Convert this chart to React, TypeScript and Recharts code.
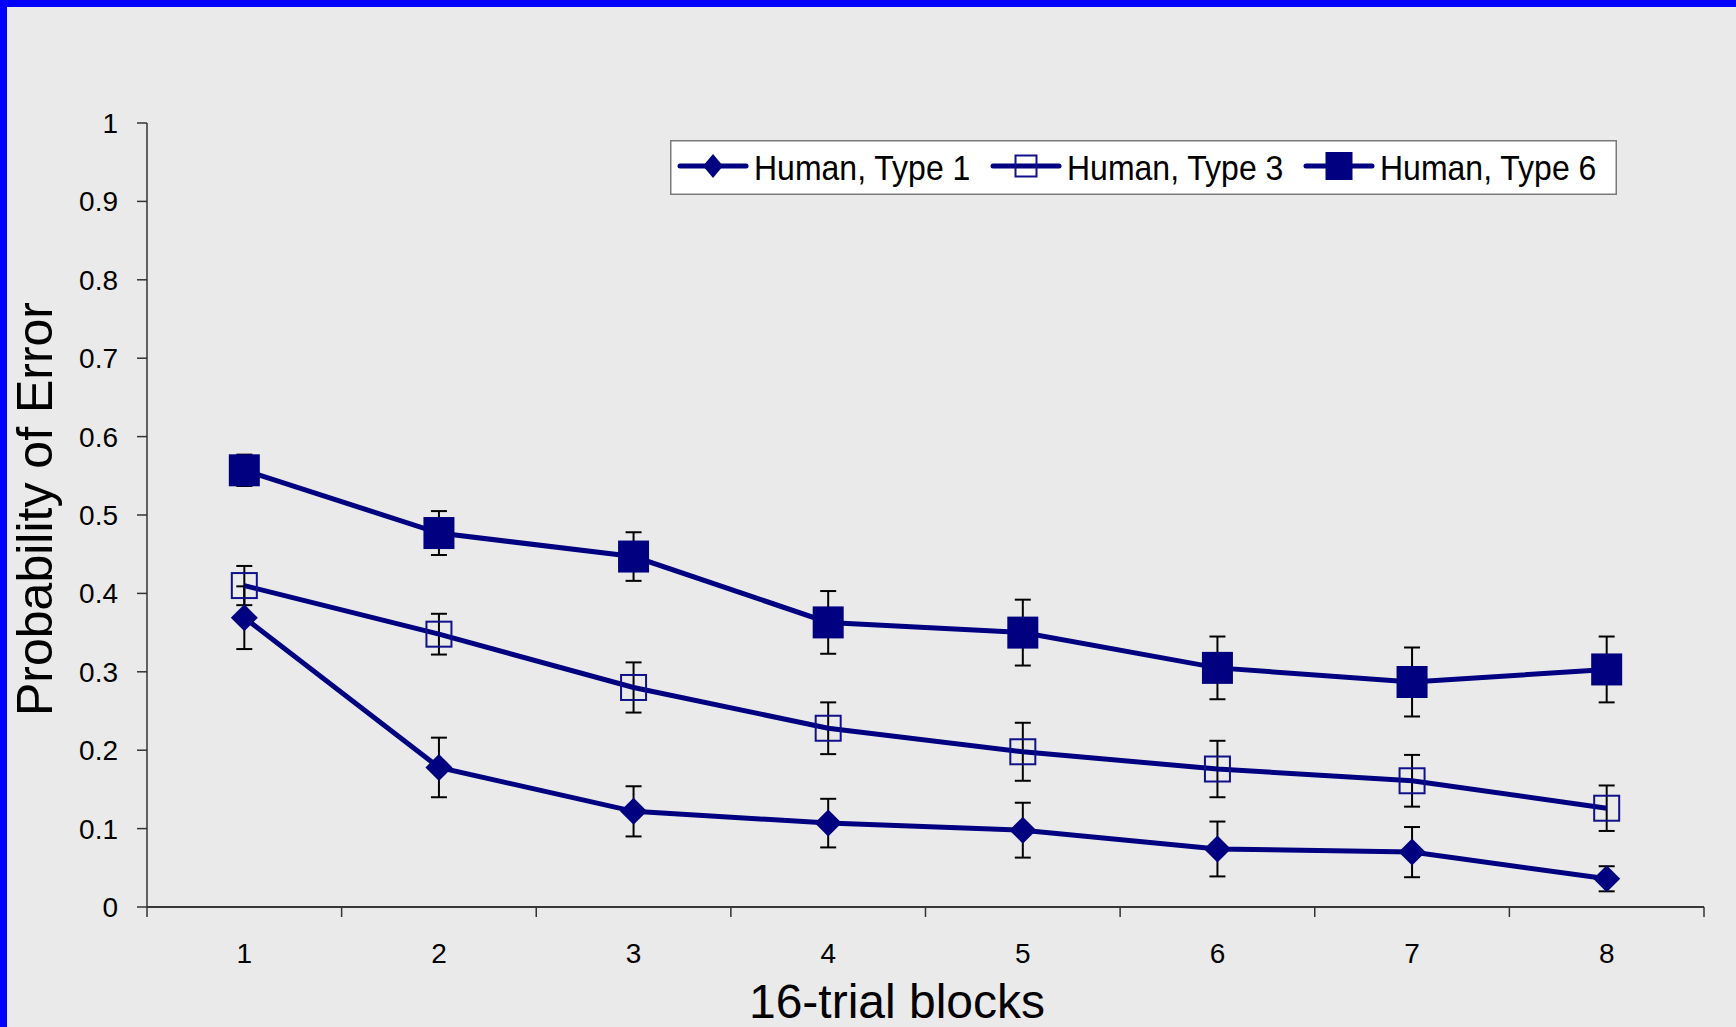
import React from 'react';
import { LineChart, Line, XAxis, YAxis, ErrorBar, Legend } from 'recharts';

const blocks = [1, 2, 3, 4, 5, 6, 7, 8];
const xTickLabels = ['1', '2', '3', '4', '5', '6', '7', '8'];
const xTickPositions = [0.5, 1, 1.5, 2, 2.5, 3, 3.5, 4, 4.5, 5, 5.5, 6, 6.5, 7, 7.5, 8, 8.5];
const yTickValues = [0, 0.1, 0.2, 0.3, 0.4, 0.5, 0.6, 0.7, 0.8, 0.9, 1];
const yTickLabels = ['0', '0.1', '0.2', '0.3', '0.4', '0.5', '0.6', '0.7', '0.8', '0.9', '1'];

const type1 = [0.369, 0.178, 0.122, 0.107, 0.098, 0.074, 0.070, 0.036];
const type1Err = [0.040, 0.038, 0.032, 0.031, 0.035, 0.035, 0.032, 0.016];
const type3 = [0.410, 0.348, 0.280, 0.228, 0.198, 0.176, 0.161, 0.126];
const type3Err = [0.025, 0.026, 0.032, 0.033, 0.037, 0.036, 0.033, 0.029];
const type6 = [0.557, 0.477, 0.447, 0.363, 0.350, 0.305, 0.287, 0.303];
const type6Err = [0.020, 0.028, 0.031, 0.040, 0.042, 0.040, 0.044, 0.042];

const seriesNames = ['Human, Type 1', 'Human, Type 3', 'Human, Type 6'];
const seriesKinds = ['diamond', 'open', 'filled'];
const xTitle = '16-trial blocks';
const yTitle = 'Probability of Error';

const data = blocks.map((b, i) => ({
  block: b,
  t1: type1[i],
  e1: type1Err[i],
  t3: type3[i],
  e3: type3Err[i],
  t6: type6[i],
  e6: type6Err[i],
}));

const NAVY = '#000080';
const FONT = '"Liberation Sans", Arial, Helvetica, sans-serif';
const BG = '#EAEAEA';

function Marker({ kind, cx, cy, legend }: { kind: string; cx: number; cy: number; legend?: boolean }) {
  if (cx == null || cy == null) return null;
  if (kind === 'diamond') {
    const w = legend ? 10 : 13.5;
    const h = legend ? 12 : 13.5;
    return <path d={`M${cx},${cy - h}L${cx + w},${cy}L${cx},${cy + h}L${cx - w},${cy}Z`} fill={NAVY} />;
  }
  if (kind === 'open') {
    const s = legend ? 10.5 : 12.5;
    return <rect x={cx - s} y={cy - s} width={2 * s} height={2 * s} fill="none" stroke="#10108a" strokeWidth={2} />;
  }
  const w = legend ? 13.5 : 15.5;
  const h = legend ? 14 : 16;
  return <rect x={cx - w} y={cy - h} width={2 * w} height={2 * h} fill={NAVY} />;
}

const makeDot = (kind: string, prefix: string) => (p: any) => (
  <Marker key={`${prefix}-${p.index}`} kind={kind} cx={p.cx} cy={p.cy} />
);

const XTick = (props: any) => {
  const { x, y, payload } = props;
  const v = payload.value;
  if (!Number.isInteger(v)) {
    return <line x1={x} x2={x} y1={y - 10} y2={y} stroke="#333" strokeWidth={1.5} />;
  }
  return (
    <text x={x} y={y + 46} textAnchor="middle" fontSize={28} fontFamily={FONT} fill="#000">
      {xTickLabels[v - 1]}
    </text>
  );
};

const LegendContent = () => (
  <svg width={947} height={55} style={{ display: 'block' }}>
    <rect x={0.75} y={0.75} width={945.5} height={53.5} fill="#FFFFFF" stroke="#7a7a7a" strokeWidth={1.5} />
    {seriesNames.map((name, i) => {
      const x0 = 10 + i * 313;
      return (
        <g key={name}>
          <line x1={x0} x2={x0 + 66} y1={26} y2={26} stroke={NAVY} strokeWidth={5} strokeLinecap="round" />
          <Marker kind={seriesKinds[i]} cx={x0 + 33} cy={26} legend />
          <text
            x={x0 + 74}
            y={40}
            fontSize={32}
            fontFamily={FONT}
            fill="#000"
            transform="translate(0 40) scale(1 1.12) translate(0 -40)"
          >
            {name}
          </text>
        </g>
      );
    })}
  </svg>
);

const YTitle = () => (
  <text x={52} y={509} transform="rotate(-90 52 509)" textAnchor="middle" fontSize={50} fontFamily={FONT} fill="#000">
    {yTitle}
  </text>
);

const XTitle = () => (
  <text x={897} y={1018} textAnchor="middle" fontSize={48} fontFamily={FONT} fill="#000">
    {xTitle}
  </text>
);

export default function App() {
  return (
    <div style={{ position: 'fixed', left: 0, top: 0, width: 1736, height: 1027, background: BG, overflow: 'hidden' }}>
      <LineChart width={1736} height={1027} data={data} margin={{ top: 123, right: 32, bottom: 0, left: 0 }}>
        <XAxis
          dataKey="block"
          type="number"
          domain={[0.5, 8.5]}
          ticks={xTickPositions}
          interval={0}
          height={120}
          tickSize={10}
          tickMargin={0}
          tickLine={false}
          tick={XTick}
          axisLine={{ stroke: '#383838', strokeWidth: 2 }}
          label={{ value: xTitle, content: XTitle }}
        />
        <XAxis
          xAxisId="top"
          orientation="top"
          type="number"
          domain={[0.5, 8.5]}
          height={0}
          tick={false}
          tickLine={false}
          axisLine={{ stroke: '#8c8c8c', strokeWidth: 2 }}
        />
        <YAxis
          type="number"
          domain={[0, 1]}
          ticks={yTickValues}
          interval={0}
          width={147}
          tickSize={10}
          tickMargin={19}
          tickFormatter={(v: number) => yTickLabels[Math.round(v * 10)]}
          tick={{ fontSize: 28, fill: '#000', fontFamily: FONT }}
          tickLine={{ stroke: '#333', strokeWidth: 1.5 }}
          axisLine={{ stroke: '#333', strokeWidth: 1.5 }}
          label={{ value: yTitle, content: YTitle }}
        />
        <YAxis
          yAxisId="right"
          orientation="right"
          type="number"
          domain={[0, 1]}
          width={0}
          tick={false}
          tickLine={false}
          axisLine={{ stroke: '#8c8c8c', strokeWidth: 2 }}
        />
        <Legend
          verticalAlign="middle"
          align="center"
          layout="horizontal"
          wrapperStyle={{ position: 'absolute', left: 670, top: 140, width: 947, height: 55 }}
          content={LegendContent}
        />
        <Line
          type="linear"
          dataKey="t1"
          name={seriesNames[0]}
          stroke={NAVY}
          strokeWidth={5}
          dot={makeDot('diamond', 'a')}
          activeDot={false}
          isAnimationActive={false}
        >
          <ErrorBar dataKey="e1" direction="y" width={8} stroke="#000" strokeWidth={2} isAnimationActive={false} />
        </Line>
        <Line
          type="linear"
          dataKey="t3"
          name={seriesNames[1]}
          stroke={NAVY}
          strokeWidth={5}
          dot={makeDot('open', 'b')}
          activeDot={false}
          isAnimationActive={false}
        >
          <ErrorBar dataKey="e3" direction="y" width={8} stroke="#000" strokeWidth={2} isAnimationActive={false} />
        </Line>
        <Line
          type="linear"
          dataKey="t6"
          name={seriesNames[2]}
          stroke={NAVY}
          strokeWidth={5}
          dot={makeDot('filled', 'c')}
          activeDot={false}
          isAnimationActive={false}
        >
          <ErrorBar dataKey="e6" direction="y" width={8} stroke="#000" strokeWidth={2} isAnimationActive={false} />
        </Line>
      </LineChart>
      <div style={{ position: 'absolute', left: 0, top: 0, width: 1736, height: 7, background: '#0000FF' }} />
      <div style={{ position: 'absolute', left: 0, top: 0, width: 7, height: 1027, background: '#0000FF' }} />
    </div>
  );
}
